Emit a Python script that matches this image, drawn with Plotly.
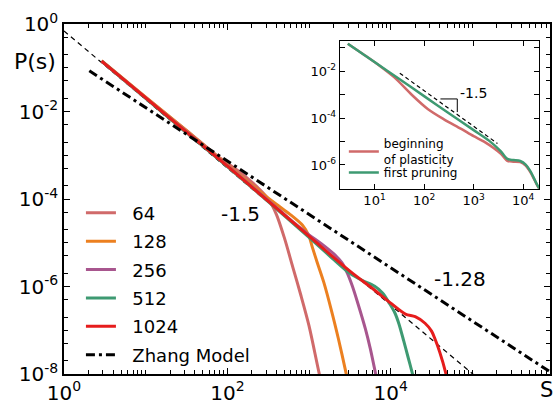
import numpy as np
import plotly.graph_objects as go

# ---------- main panel data (log10 values) ----------
log_s_64 = [0.46, 1.0, 1.5, 1.9, 2.15, 2.35, 2.5, 2.6, 2.7, 2.8, 2.9, 3.0, 3.12, 3.2]
log_p_64 = [-0.85, -1.68, -2.43, -3.05, -3.38, -3.70, -4.00, -4.35, -4.90, -5.55, -6.20, -6.90, -7.95, -8.6]

log_s_128 = [0.46, 1.0, 1.5, 2.0, 2.4, 2.6, 2.76, 2.92, 3.0, 3.04, 3.1, 3.18, 3.28, 3.36, 3.45, 3.5]
log_p_128 = [-0.84, -1.67, -2.44, -3.22, -3.83, -4.12, -4.34, -4.60, -4.85, -5.10, -5.45, -5.90, -6.59, -7.20, -7.95, -8.4]

log_s_256 = [0.46, 1.0, 1.5, 2.0, 2.5, 2.8, 3.0, 3.15, 3.3, 3.4, 3.47, 3.53, 3.6, 3.69, 3.75, 3.81, 3.86]
log_p_256 = [-0.85, -1.69, -2.46, -3.24, -4.03, -4.52, -4.82, -5.02, -5.25, -5.45, -5.70, -5.99, -6.40, -6.97, -7.42, -7.95, -8.4]

log_s_512 = [0.46, 1.0, 1.5, 2.0, 2.5, 3.0, 3.3, 3.5, 3.65, 3.8, 3.9, 3.98, 4.05, 4.1, 4.16, 4.21, 4.26, 4.32]
log_p_512 = [-0.85, -1.70, -2.48, -3.26, -4.06, -4.88, -5.38, -5.70, -5.86, -5.99, -6.15, -6.37, -6.60, -6.85, -7.25, -7.60, -7.95, -8.4]

log_s_1024 = [0.46, 1.0, 1.5, 2.0, 2.5, 3.0, 3.5, 3.8, 4.0, 4.18, 4.30, 4.42, 4.5, 4.54, 4.6, 4.67, 4.72]
log_p_1024 = [-0.85, -1.69, -2.47, -3.25, -4.05, -4.85, -5.65, -6.08, -6.38, -6.63, -6.69, -6.84, -7.02, -7.19, -7.50, -7.95, -8.4]

# Zhang model (slope -1.28) and the -1.5 guide line: end points
log_s_zhang = [0.31, 5.95]
log_p_zhang = [-1.07, -7.95]
log_s_guide = [0.0, 5.1]
log_p_guide = [-0.16, -8.15]

sizes = ["64", "128", "256", "512", "1024"]
colors = ["#d06a6a", "#ec8020", "#a8568e", "#3e9a72", "#e61c1c"]

# ---------- inset data ----------
log_s_begin = [0.46, 0.8, 1.08, 1.4, 1.75, 2.08, 2.4, 2.75, 3.0, 3.21, 3.55, 3.68, 3.8, 3.94, 4.05, 4.15, 4.28, 4.35]
log_p_begin = [-0.82, -1.31, -1.73, -2.26, -3.00, -3.62, -4.05, -4.46, -4.77, -5.00, -5.52, -5.82, -5.86, -5.88, -6.02, -6.32, -6.86, -7.1]

log_s_prune = [0.46, 1.0, 1.5, 2.0, 2.5, 3.0, 3.31, 3.54, 3.68, 3.8, 3.94, 4.05, 4.15, 4.28, 4.35]
log_p_prune = [-0.82, -1.60, -2.33, -3.06, -3.79, -4.51, -4.96, -5.40, -5.74, -5.79, -5.83, -5.98, -6.28, -6.84, -7.1]

log_s_inset_guide = [1.51, 3.48]
log_p_inset_guide = [-2.08, -5.08]
log_s_tri = [2.33, 2.67, 2.67]
log_p_tri = [-3.18, -3.18, -3.74]

FONT = "DejaVu Sans"
W, H = 554, 407
L, R, T, B = 64, 2, 24, 28

def tp(v):
    return 10 ** np.array(v, dtype=float)

fig = go.Figure()

all_s = [log_s_64, log_s_128, log_s_256, log_s_512, log_s_1024]
all_p = [log_p_64, log_p_128, log_p_256, log_p_512, log_p_1024]

fig.add_trace(go.Scatter(x=tp(log_s_guide), y=tp(log_p_guide), mode="lines",
                         line=dict(color="black", width=1.2, dash="5px,4px"),
                         showlegend=False, xaxis="x", yaxis="y"))

NB = "\u00a0\u00a0"
for name, c, ls, lp in zip(sizes, colors, all_s, all_p):
    fig.add_trace(go.Scatter(x=tp(ls), y=tp(lp), mode="lines", name=NB + name,
                             line=dict(color=c, width=3, shape="spline", smoothing=0.8),
                             legendgroup=name, legend="legend", xaxis="x", yaxis="y"))

fig.add_trace(go.Scatter(x=tp(log_s_zhang), y=tp(log_p_zhang), mode="lines", name=NB + "Zhang Model",
                         line=dict(color="black", width=3, dash="9px,4px,3px,4px"),
                         legendgroup="zhang", legend="legend", xaxis="x", yaxis="y"))

# inset
fig.add_trace(go.Scatter(x=tp(log_s_begin), y=tp(log_p_begin), mode="lines",
                         name="beginning<br>of plasticity",
                         line=dict(color=colors[0], width=2.5, shape="spline", smoothing=0.8),
                         legend="legend2", xaxis="x2", yaxis="y2"))
fig.add_trace(go.Scatter(x=tp(log_s_prune), y=tp(log_p_prune), mode="lines",
                         name="first pruning",
                         line=dict(color=colors[3], width=2.5, shape="spline", smoothing=0.8),
                         legend="legend3", xaxis="x2", yaxis="y2"))
fig.add_trace(go.Scatter(x=tp(log_s_inset_guide), y=tp(log_p_inset_guide), mode="lines",
                         line=dict(color="black", width=1.2, dash="4px,3px"),
                         showlegend=False, xaxis="x2", yaxis="y2"))
fig.add_trace(go.Scatter(x=tp(log_s_tri), y=tp(log_p_tri), mode="lines",
                         line=dict(color="black", width=1),
                         showlegend=False, xaxis="x2", yaxis="y2"))

def sup(e):
    return "10<sup>%d</sup>" % e

# main axes ticks: labelled major ticks on even decades, minor ticks elsewhere
x_major = [10 ** k for k in (0, 2, 4)]
x_text = [sup(k) for k in (0, 2, 4)]
x_minor = [10 ** k for k in (1, 3, 5)] + [m * 10 ** k for k in range(0, 6) for m in range(2, 10)]
y_major = [10 ** k for k in (-8, -6, -4, -2, 0)]
y_text = [sup(k) for k in (-8, -6, -4, -2, 0)]
y_minor = [10 ** k for k in (-7, -5, -3, -1)] + [m * 10 ** k for k in range(-8, 0) for m in (2, 5)]

axis_common = dict(showgrid=False, zeroline=False, showline=True, linecolor="black",
                   linewidth=1.5, ticks="inside", mirror="allticks", tickcolor="black",
                   tickfont=dict(family=FONT, size=20, color="black"))

inset_common = dict(showgrid=False, zeroline=False, showline=True, linecolor="black", linewidth=1.2,
                    ticks="inside", mirror="allticks", tickcolor="black", ticklen=5, tickwidth=1,
                    tickfont=dict(family=FONT, size=13, color="black"))

# inset geometry (pixels)
ix0, ix1, iy0, iy1 = 341, 541, 41, 191
pw, ph = W - L - R, H - T - B

def legend_at(px, py, size):
    return dict(x=(px - L) / pw, y=(H - B - py) / ph, xanchor="left", yanchor="top",
                bgcolor="rgba(0,0,0,0)", font=dict(family=FONT, size=size, color="black"))

leg1 = legend_at(81, 197, 18)
leg1["tracegroupgap"] = 2

fig.update_layout(
    width=W, height=H,
    margin=dict(l=L, r=R, t=T, b=B, pad=0),
    paper_bgcolor="white", plot_bgcolor="white",
    font=dict(family=FONT, color="black"),
    xaxis=dict(type="log", range=[0, 5.95], tickmode="array", tickvals=x_major, ticktext=x_text,
               ticklen=6, tickwidth=1,
               minor=dict(tickmode="array", tickvals=x_minor, ticks="inside", ticklen=4, tickcolor="black"),
               domain=[0, 1], anchor="y", **axis_common),
    yaxis=dict(type="log", range=[-8, 0], tickmode="array", tickvals=y_major, ticktext=y_text,
               ticklen=6, tickwidth=1,
               minor=dict(tickmode="array", tickvals=y_minor, ticks="inside", ticklen=4, tickcolor="black"),
               domain=[0, 1], anchor="x", **axis_common),
    xaxis2=dict(type="log", range=[0.3, 4.32], tickmode="array",
                tickvals=[10, 100, 1000, 10000], ticktext=[sup(k) for k in range(1, 5)],
                domain=[(ix0 - L) / pw, (ix1 - L) / pw], anchor="y2", **inset_common),
    yaxis2=dict(type="log", range=[-7.01, -0.695], tickmode="array",
                tickvals=[10 ** k for k in (-6, -4, -2)],
                ticktext=[sup(k) for k in (-6, -4, -2)],
                minor=dict(tickmode="array", tickvals=[10 ** k for k in (-7, -5, -3, -1)],
                           ticks="inside", ticklen=5, tickcolor="black"),
                domain=[(H - B - iy1) / ph, (H - B - iy0) / ph], anchor="x2", **inset_common),
    legend=leg1,
    legend2=legend_at(345, 131, 12),
    legend3=legend_at(345, 160, 12),
    annotations=[
        dict(text="P(s)", xref="paper", yref="paper", x=(35 - L) / pw, y=(H - B - 62) / ph,
             xanchor="center", yanchor="middle", showarrow=False, font=dict(size=22)),
        dict(text="S", xref="paper", yref="paper", x=(548 - L) / pw, y=(H - B - 395) / ph,
             xanchor="center", yanchor="middle", showarrow=False, font=dict(size=21)),
        dict(text="-1.5", xref="x", yref="y", x=1.90, y=-4.35, xanchor="left", yanchor="middle",
             showarrow=False, font=dict(size=20)),
        dict(text="-1.28", xref="x", yref="y", x=4.50, y=-5.83, xanchor="left", yanchor="middle",
             showarrow=False, font=dict(size=20)),
        dict(text="-1.5", xref="x2", yref="y2", x=2.68, y=-2.93, xanchor="left", yanchor="middle",
             showarrow=False, font=dict(size=14)),
    ],
)

fig.write_html("out.html")
